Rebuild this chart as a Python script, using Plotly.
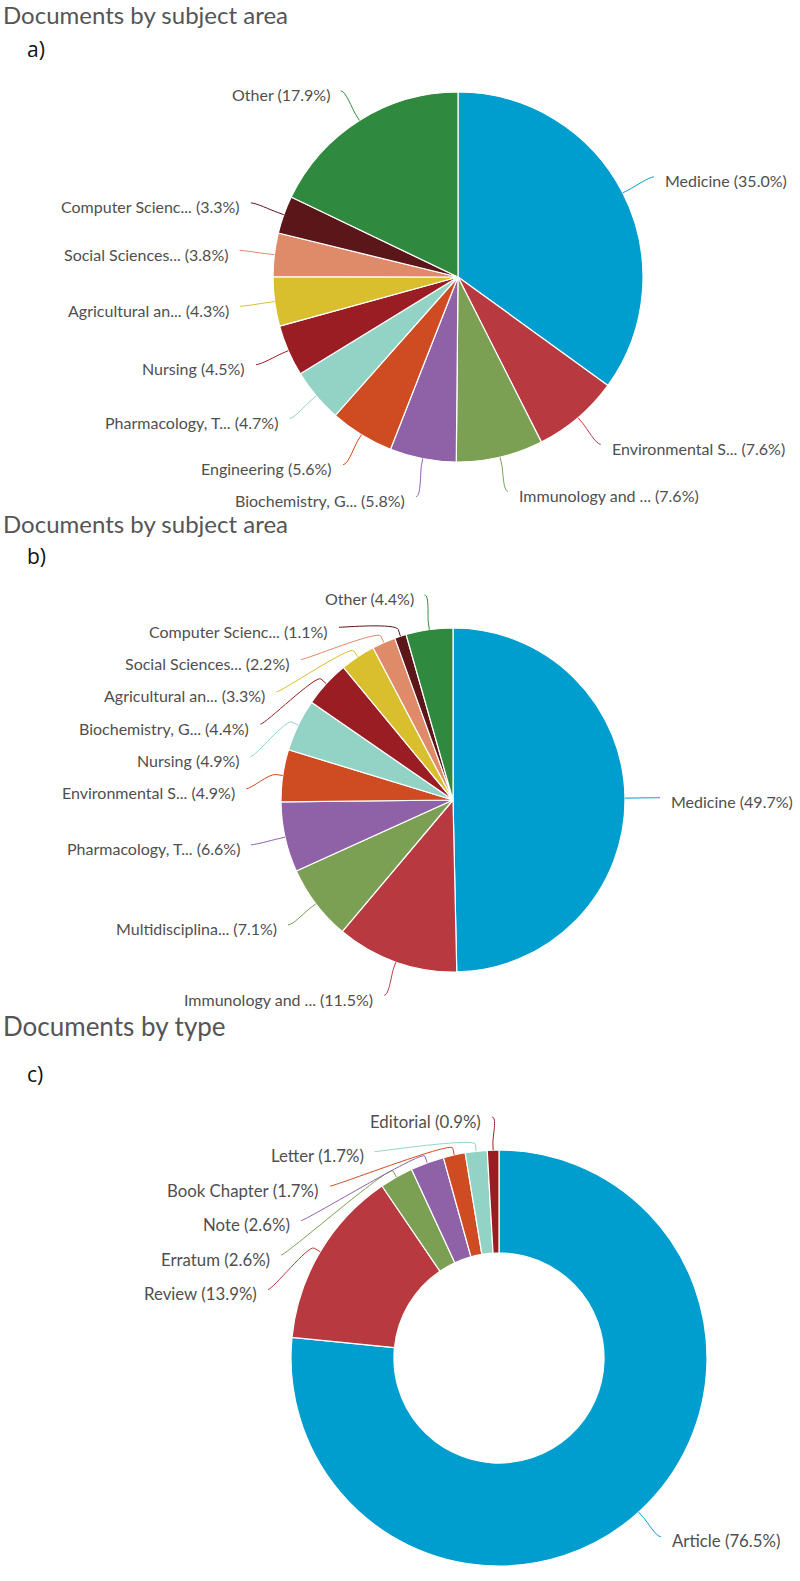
import math
import plotly.graph_objects as go

W, H = 800, 1581

# ---------------- data ----------------
a_labels = ["Medicine", "Environmental S...", "Immunology and ...", "Biochemistry, G...",
            "Engineering", "Pharmacology, T...", "Nursing", "Agricultural an...",
            "Social Sciences...", "Computer Scienc...", "Other"]
a_values = [35.0, 7.6, 7.6, 5.8, 5.6, 4.7, 4.5, 4.3, 3.8, 3.3, 17.9]

b_labels = ["Medicine", "Immunology and ...", "Multidisciplina...", "Pharmacology, T...",
            "Environmental S...", "Nursing", "Biochemistry, G...", "Agricultural an...",
            "Social Sciences...", "Computer Scienc...", "Other"]
b_values = [49.7, 11.5, 7.1, 6.6, 4.9, 4.9, 4.4, 3.3, 2.2, 1.1, 4.4]

c_labels = ["Article", "Review", "Erratum", "Note", "Book Chapter", "Letter", "Editorial"]
c_values = [76.5, 13.9, 2.6, 2.6, 1.7, 1.7, 0.9]

titles = ["Documents by subject area", "Documents by subject area", "Documents by type"]
panel_tags = ["a)", "b)", "c)"]

# ---------------- style ----------------
PALETTE = ["#009ECE", "#B8393F", "#7B9F53", "#8F62A8", "#CF4B22", "#93D3C6",
           "#9A1D24", "#D9BF2E", "#DF8B6A", "#5B161A", "#2F8A3F"]
LABEL_FONT = dict(family="Lato", size=16, color="#4f4f4f")
TITLE_FONT = dict(family="Lato", size=24, color="#555555")
TAG_FONT = dict(family="Open Sans", size=21, color="#111111")

# layout of each panel (pixels): centre, radius, label distance, label spacing, hole
panels = [
    dict(labels=a_labels, values=a_values, cx=458, cy=277, r=185, dist=35, sp=32, hole=0,
         title_y=14, tag_y=49, title_size=24, label_size=16),
    dict(labels=b_labels, values=b_values, cx=453, cy=800, r=172, dist=35, sp=32.3, hole=0,
         title_y=523, tag_y=556, title_size=24, label_size=16),
    dict(labels=c_labels, values=c_values, cx=499, cy=1358, r=208, dist=33, sp=34.5, hole=0.505,
         title_y=1026, tag_y=1074, title_size=26, label_size=16.8),
]


def px(x):
    return x / W


def py(y):
    return 1 - y / H


fig = go.Figure()
annotations = []
shapes = []

for p in panels:
    cx, cy, r = p["cx"], p["cy"], p["r"]
    vals, labs = p["values"], p["labels"]
    n = len(vals)
    cols = PALETTE[:n]
    fig.add_trace(go.Pie(
        labels=labs, values=vals, sort=False, direction="clockwise", rotation=0,
        hole=p["hole"], textinfo="none", hoverinfo="label+percent",
        marker=dict(colors=cols, line=dict(color="white", width=1.2)),
        domain=dict(x=[px(cx - r), px(cx + r)], y=[py(cy + r), py(cy - r)]),
        showlegend=False,
    ))

    # label geometry (Highcharts-like outside labels)
    total = sum(vals)
    R = r + p["dist"]
    cum = 0.0
    items = []
    for i, v in enumerate(vals):
        a0 = cum / total * 2 * math.pi
        cum += v
        a1 = cum / total * 2 * math.pi
        am = (a0 + a1) / 2
        s, c = math.sin(am), math.cos(am)
        items.append(dict(i=i, s=s, c=c, left=(s < 0),
                          nx=cx + R * s, ny=cy - R * c))
    for side in (False, True):
        grp = sorted([it for it in items if it["left"] == side], key=lambda t: t["ny"])
        prev = None
        for it in grp:
            y = it["ny"] if prev is None else max(it["ny"], prev + p["sp"])
            it["y"] = y
            prev = y
    for it in items:
        y = it["y"]
        sgn = -1 if it["left"] else 1
        if y < cy - R + 2 or y > cy + R - 2:
            x = it["nx"]
        else:
            ang = math.asin(max(-1, min(1, (y - cy) / R)))
            x = cx + sgn * math.cos(ang) * R
        tx, ty = cx + r * it["s"], cy - r * it["c"]
        bx, by = cx + (r + 7) * it["s"], cy - (r + 7) * it["c"]
        cx2, cy2 = 2 * bx - tx, 2 * by - ty
        path = (f"M {px(x)} {py(y)} C {px(x - sgn * 5)} {py(y)} {px(cx2)} {py(cy2)} "
                f"{px(bx)} {py(by)} L {px(tx)} {py(ty)}")
        shapes.append(dict(type="path", path=path, xref="paper", yref="paper",
                           line=dict(color=PALETTE[it["i"]], width=1)))
        txt = f"{labs[it['i']]} ({vals[it['i']]:.1f}%)"
        annotations.append(dict(
            text=txt, x=px(x + sgn * 9), y=py(y + 4), xref="paper", yref="paper",
            xanchor="right" if it["left"] else "left", yanchor="middle",
            showarrow=False, font=dict(LABEL_FONT, size=p["label_size"])))

for k, p in enumerate(panels):
    annotations.append(dict(text=titles[k], x=px(1), y=py(p["title_y"]), xref="paper", yref="paper",
                            xanchor="left", yanchor="middle", showarrow=False,
                            font=dict(TITLE_FONT, size=p["title_size"])))
    annotations.append(dict(text=panel_tags[k], x=px(25), y=py(p["tag_y"]), xref="paper", yref="paper",
                            xanchor="left", yanchor="middle", showarrow=False, font=TAG_FONT))

fig.update_layout(
    width=W, height=H, margin=dict(l=0, r=0, t=0, b=0),
    paper_bgcolor="white", plot_bgcolor="white",
    annotations=annotations, shapes=shapes,
)

fig.write_html("out.html")
